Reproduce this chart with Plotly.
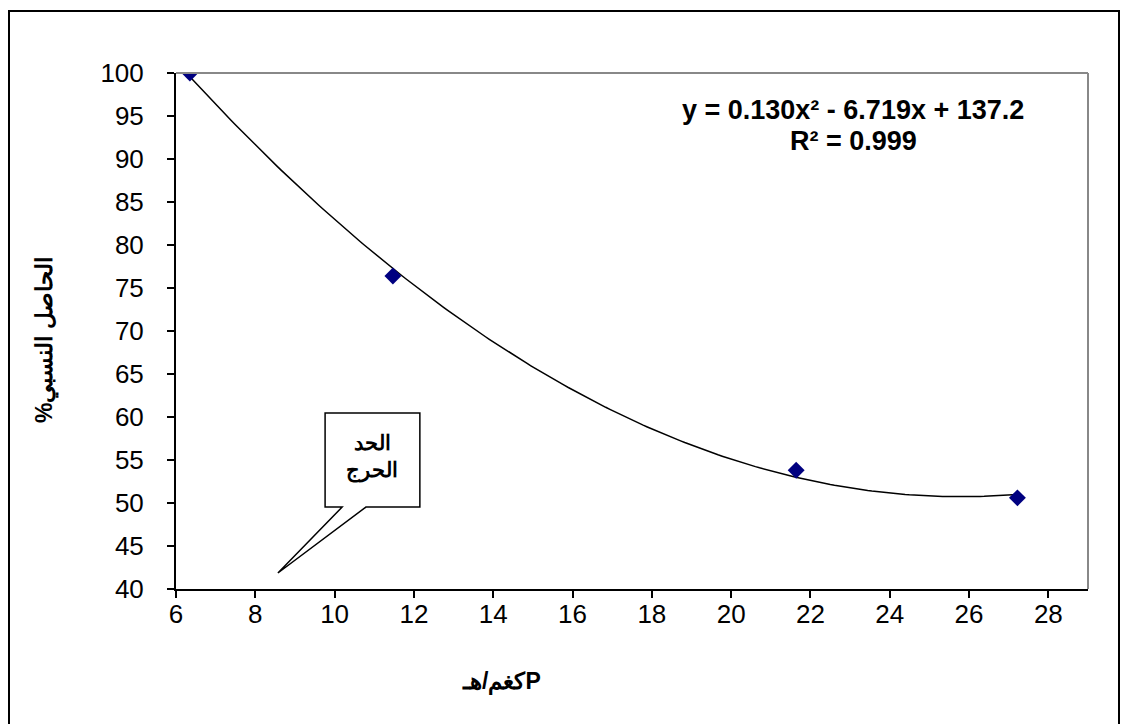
import numpy as np
import plotly.graph_objects as go

# Data
p_rate = [6.35, 11.47, 21.64, 27.22]          # P كغم/هـ
rel_yield = [100.0, 76.4, 53.8, 50.6]          # الحاصل النسبي %

x_ticks = [6, 8, 10, 12, 14, 16, 18, 20, 22, 24, 26, 28]
y_ticks = [40, 45, 50, 55, 60, 65, 70, 75, 80, 85, 90, 95, 100]

eq_line1 = "y = 0.130x² - 6.719x + 137.2"
eq_line2 = "R² = 0.999"
callout_text = "الحد<br>الحرج"
x_title = "كغم/هـP"
y_title = "الحاصل النسبي%\u200f"

# Polynomial (order 2) trendline fitted to the points
coef = np.polyfit(p_rate, rel_yield, 2)
xs = np.linspace(min(p_rate), max(p_rate), 200)
ys = np.polyval(coef, xs)

fig = go.Figure()
fig.add_trace(go.Scatter(x=xs, y=ys, mode="lines",
                         line=dict(color="black", width=1.5),
                         hoverinfo="skip", showlegend=False))
fig.add_trace(go.Scatter(x=p_rate, y=rel_yield, mode="markers",
                         marker=dict(symbol="diamond", size=13, color="#000080",
                                     line=dict(width=0)),
                         showlegend=False))

font_main = "Liberation Sans, Arial, sans-serif"
L, R, T, B = 176, 1088, 73, 589
W, H = 1121, 724

def px(xp):
    return (xp - L) / (R - L)

def py(yp):
    return (B - yp) / (B - T)

fig.update_layout(
    width=W, height=H,
    margin=dict(l=L, r=W - R, t=T, b=H - B),
    paper_bgcolor="white", plot_bgcolor="white",
    font=dict(family=font_main, color="black"),
    xaxis=dict(range=[6, 29], tickvals=x_ticks, showgrid=False, zeroline=False,
               showline=True, linecolor="black", linewidth=2,
               ticks="outside", ticklen=7, tickcolor="black", tickwidth=1.5,
               ticklabelstandoff=-6,
               tickfont=dict(size=26, family=font_main)),
    yaxis=dict(range=[40, 100], tickvals=y_ticks, showgrid=False, zeroline=False,
               showline=True, linecolor="black", linewidth=2,
               ticks="outside", ticklen=7, tickcolor="black", tickwidth=1.5,
               ticklabelstandoff=18,
               tickfont=dict(size=26, family=font_main)),
)

# Gray top and right border of plot area
fig.add_shape(type="line", xref="paper", yref="paper", x0=0, x1=1, y0=1, y1=1,
              line=dict(color="#888888", width=2))
fig.add_shape(type="line", xref="paper", yref="paper", x0=1, x1=1, y0=0, y1=1,
              line=dict(color="#888888", width=2))

# Outer chart frame
fig.add_shape(type="rect", xref="paper", yref="paper",
              x0=px(9), x1=px(1119), y0=py(740), y1=py(11),
              line=dict(color="black", width=2), fillcolor="rgba(0,0,0,0)", layer="below")

# Axis titles
fig.add_annotation(x=px(45), y=py(340), xref="paper", yref="paper",
                   text="<b>" + y_title + "</b>", textangle=-90, showarrow=False,
                   xanchor="center", yanchor="middle",
                   font=dict(size=23, family=font_main))
fig.add_annotation(x=px(501), y=py(681), xref="paper", yref="paper",
                   text="<b>" + x_title + "</b>", showarrow=False,
                   xanchor="center", yanchor="middle",
                   font=dict(size=23, family=font_main))

# Callout box with pointer (data coordinates)
bx0, bx1, by0, by1 = 9.76, 12.15, 49.53, 60.47
bpx0, bpx1 = 10.19, 10.79
tipx, tipy = 8.57, 41.86
path = (f"M {bx0},{by1} L {bx1},{by1} L {bx1},{by0} L {bpx1},{by0} "
        f"L {tipx},{tipy} L {bpx0},{by0} L {bx0},{by0} Z")
fig.add_shape(type="path", xref="x", yref="y", path=path,
              line=dict(color="black", width=1.5), fillcolor="white")
fig.add_annotation(x=(bx0 + bx1) / 2, y=(by0 + by1) / 2 + 0.3, xref="x", yref="y",
                   text="<b>" + callout_text + "</b>", showarrow=False,
                   xanchor="center", yanchor="middle",
                   font=dict(size=21, family=font_main), align="center")

# Equation text
fig.add_annotation(x=px(853), y=py(110), xref="paper", yref="paper",
                   text="<b>" + eq_line1 + "</b>", showarrow=False,
                   xanchor="center", yanchor="middle",
                   font=dict(size=27, family=font_main))
fig.add_annotation(x=px(853), y=py(141), xref="paper", yref="paper",
                   text="<b>" + eq_line2 + "</b>", showarrow=False,
                   xanchor="center", yanchor="middle",
                   font=dict(size=27, family=font_main))

fig.write_html("out.html", config={"displayModeBar": False},
               post_script="document.body.style.margin='0';")
